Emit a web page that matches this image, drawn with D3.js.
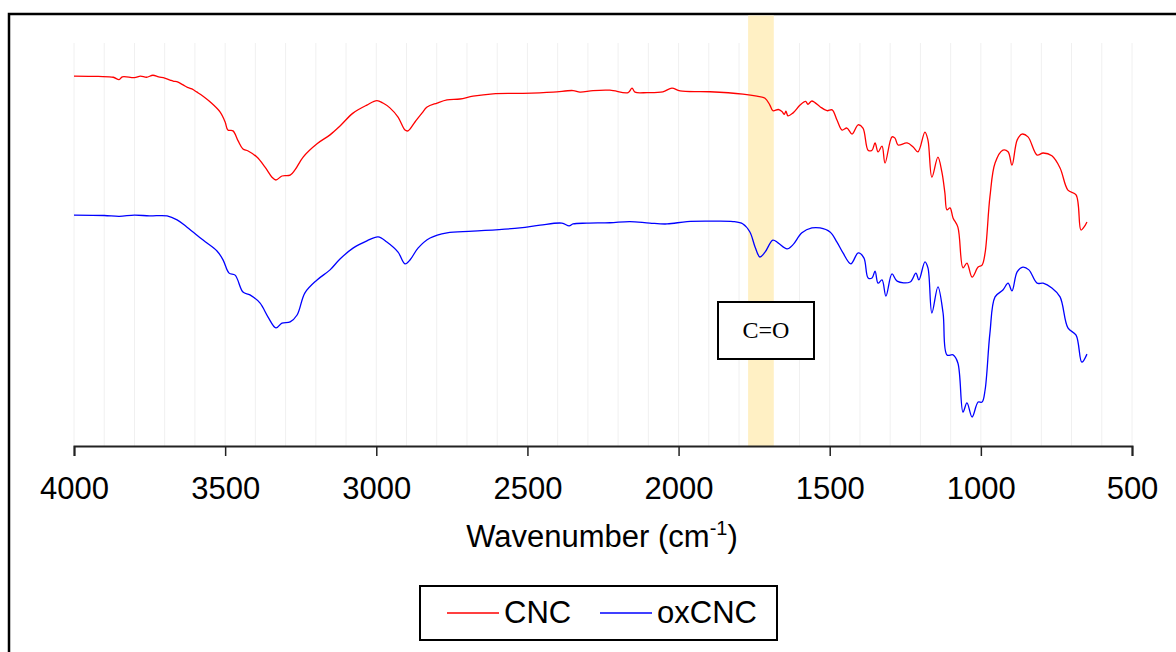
<!DOCTYPE html>
<html>
<head>
<meta charset="utf-8">
<script src="https://cdn.jsdelivr.net/npm/d3@7"></script>
<style>
  html, body { margin: 0; padding: 0; background: #fff; }
  svg { display: block; }
</style>
</head>
<body>
<svg id="chart" width="1176" height="652"></svg>
<script>
// ---- Data (wavenumber in cm-1, transmittance in arbitrary offset units) ----
const cncWavenumber = [4000,3920,3870,3851,3840,3800,3780,3760,3739,3720,3700,3682,3670,3660,3639,3625,3610,3593,3573,3550,3517,3500,3491,3474,3457,3441,3424,3395,3368,3345,3332,3312,3285,3269,3242,3196,3153,3120,3077,3031,2998,2978,2955,2928,2905,2895,2872,2849,2832,2799,2766,2723,2680,2614,2515,2415,2349,2326,2283,2227,2167,2154,2144,2104,2052,2022,1995,1896,1787,1741,1714,1698,1688,1670,1658,1650,1645,1638,1622,1598,1580,1572,1560,1549,1532,1509,1492,1476,1459,1443,1426,1406,1390,1373,1360,1350,1340,1327,1317,1294,1284,1274,1244,1224,1208,1185,1175,1162,1142,1129,1119,1112,1102,1092,1076,1059,1046,1029,1009,996,986,970,953,927,910,897,880,864,844,814,794,765,738,712,685,669,659,649];
const cncValue = [91.8,91.7,91.5,90.9,91.6,91.4,91.8,91.5,92.0,91.6,91.3,90.8,90.5,90.4,89.6,89.0,88.6,87.8,86.8,85.4,82.9,80.4,78.4,78.2,75.7,73.7,73.2,71.7,69.2,66.7,66.0,67.0,67.2,68.5,71.7,75.0,77.2,79.4,82.6,84.6,85.7,85.1,83.9,81.6,78.4,78.2,80.4,82.6,84.1,85.1,85.9,86.1,86.8,87.4,87.5,87.8,88.2,87.8,88.2,88.3,87.7,88.8,87.8,87.7,87.9,88.8,88.1,87.9,87.3,86.8,86.3,84.6,83.2,83.5,83.0,82.3,83.1,81.9,82.6,84.6,85.5,84.8,85.6,85.2,84.2,83.2,83.4,80.9,78.4,78.9,77.4,79.7,78.9,73.4,73.4,75.2,73.0,74.4,70.2,76.7,76.4,74.7,75.2,74.2,73.0,77.9,75.9,66.7,71.7,68.0,62.8,58.6,59.1,56.6,54.3,44.2,45.4,41.9,44.4,44.9,47.9,61.8,70.2,73.4,73.0,69.7,75.9,77.4,76.7,72.2,72.7,72.0,69.0,63.5,62.3,53.6,54.3,55.6];

const oxWavenumber = [4000,3900,3850,3800,3750,3692,3659,3626,3573,3527,3507,3487,3467,3441,3418,3385,3358,3332,3312,3285,3262,3236,3196,3153,3120,3077,3031,2994,2965,2928,2905,2888,2862,2822,2766,2680,2525,2458,2386,2362,2349,2303,2227,2161,2095,2038,1972,1896,1820,1787,1764,1747,1731,1714,1688,1671,1641,1622,1592,1559,1532,1499,1476,1456,1430,1406,1387,1373,1360,1350,1340,1327,1314,1294,1277,1234,1215,1205,1185,1175,1162,1142,1125,1112,1092,1076,1059,1046,1029,1009,996,986,970,953,927,910,897,880,861,841,814,794,765,738,712,685,666,649];
const oxValue = [57.3,57.2,57.0,57.3,57.1,57.1,56.1,54.3,51.1,48.4,46.2,42.9,42.4,38.2,37.5,35.5,32.0,29.3,30.5,30.8,32.5,38.0,41.2,43.7,46.4,49.1,50.9,51.9,50.6,48.1,45.2,46.2,49.1,51.6,52.9,53.3,54.1,54.8,55.3,54.6,55.1,55.3,55.4,55.7,55.3,55.1,55.7,55.8,55.7,55.1,53.1,49.4,46.9,48.1,51.1,50.4,48.9,49.9,52.9,54.1,54.1,53.1,50.6,47.9,45.2,47.9,46.7,41.7,41.7,43.4,40.4,41.2,37.2,42.7,40.9,40.7,42.9,41.2,45.7,44.2,33.0,39.5,33.0,22.6,22.6,20.6,8.4,10.7,7.2,10.9,10.9,13.9,28.0,37.0,38.7,40.4,38.5,43.2,44.4,43.7,40.4,40.4,39.2,37.0,29.3,27.5,20.8,22.8];

const xTicks = [4000,3500,3000,2500,2000,1500,1000,500];
const gridStep = 100;
const bandRange = [1770, 1685];
const seriesNames = ["CNC", "oxCNC"];
const seriesColors = ["#FF0000", "#0000FF"];
const annotationText = "C=O";

// ---- Layout ----
const svg = d3.select("#chart");
const plot = {left: 74, right: 1132, top: 43, bottom: 446};
const x = d3.scaleLinear().domain([4000, 500]).range([plot.left, plot.right]);
const y = d3.scaleLinear().domain([0, 100]).range([plot.bottom, plot.top]);
const sans = "Liberation Sans, Arial, sans-serif";

// outer frame (extends beyond right/bottom edge like the reference)
svg.append("rect").attr("x", 9).attr("y", 14).attr("width", 1190).attr("height", 660)
  .attr("fill", "none").attr("stroke", "#000").attr("stroke-width", 2.5);

// highlight band
svg.append("rect")
  .attr("x", x(bandRange[0])).attr("y", 15.5)
  .attr("width", x(bandRange[1]) - x(bandRange[0]))
  .attr("height", plot.bottom - 15.5)
  .attr("fill", "#FFF0C4");

// vertical gridlines
const gridVals = d3.range(4000, 499, -gridStep);
svg.append("g").selectAll("line").data(gridVals).join("line")
  .attr("x1", d => x(d)).attr("x2", d => x(d))
  .attr("y1", plot.top).attr("y2", plot.bottom)
  .attr("stroke", "#F0F0F0").attr("stroke-width", 1)
  .attr("opacity", d => (d <= bandRange[0] && d >= bandRange[1]) ? 0 : 1);

// lines
const line = d3.line().x(d => x(d[0])).y(d => y(d[1])).curve(d3.curveCatmullRom.alpha(0.5));
const series = [
  d3.zip(cncWavenumber, cncValue),
  d3.zip(oxWavenumber, oxValue)
];
series.forEach((s, i) => {
  svg.append("path").datum(s).attr("d", line)
    .attr("fill", "none").attr("stroke", seriesColors[i]).attr("stroke-width", 1.3)
    .attr("stroke-linejoin", "round");
});

// x axis
const axis = d3.axisBottom(x).tickValues(xTicks).tickSize(10).tickFormat(d3.format("d"));
const gAxis = svg.append("g").attr("transform", `translate(0,${plot.bottom})`).call(axis);
gAxis.select(".domain").attr("stroke", "#222").attr("stroke-width", 2);
gAxis.selectAll(".tick line").attr("stroke", "#222").attr("stroke-width", 1.5);
gAxis.selectAll(".tick text").attr("font-family", sans)
  .attr("font-size", 31).attr("fill", "#000").attr("y", 53).attr("dy", 0);

// axis title
const title = svg.append("text").attr("x", 602).attr("y", 547)
  .attr("text-anchor", "middle").attr("font-family", sans)
  .attr("font-size", 31).attr("fill", "#000");
title.append("tspan").text("Wavenumber (cm");
title.append("tspan").attr("font-size", 20).attr("dy", -12).text("-1");
title.append("tspan").attr("dy", 12).text(")");

// annotation box
const ann = svg.append("g");
ann.append("rect").attr("x", 718).attr("y", 302).attr("width", 96).attr("height", 57)
  .attr("fill", "#fff").attr("stroke", "#000").attr("stroke-width", 2);
ann.append("text").attr("x", 766).attr("y", 338).attr("text-anchor", "middle")
  .attr("font-family", "Liberation Serif, DejaVu Serif, serif").attr("font-size", 24)
  .attr("fill", "#000").text(annotationText);

// legend
const leg = svg.append("g");
leg.append("rect").attr("x", 420).attr("y", 586).attr("width", 357).attr("height", 54)
  .attr("fill", "#fff").attr("stroke", "#000").attr("stroke-width", 2);
const legX = [447, 600];
seriesNames.forEach((name, i) => {
  leg.append("line").attr("x1", legX[i]).attr("x2", legX[i] + 52).attr("y1", 613).attr("y2", 613)
    .attr("stroke", seriesColors[i]).attr("stroke-width", 1.5);
  leg.append("text").attr("x", legX[i] + 57).attr("y", 623)
    .attr("font-family", sans).attr("font-size", 31)
    .attr("fill", "#000").text(name);
});
</script>
</body>
</html>
